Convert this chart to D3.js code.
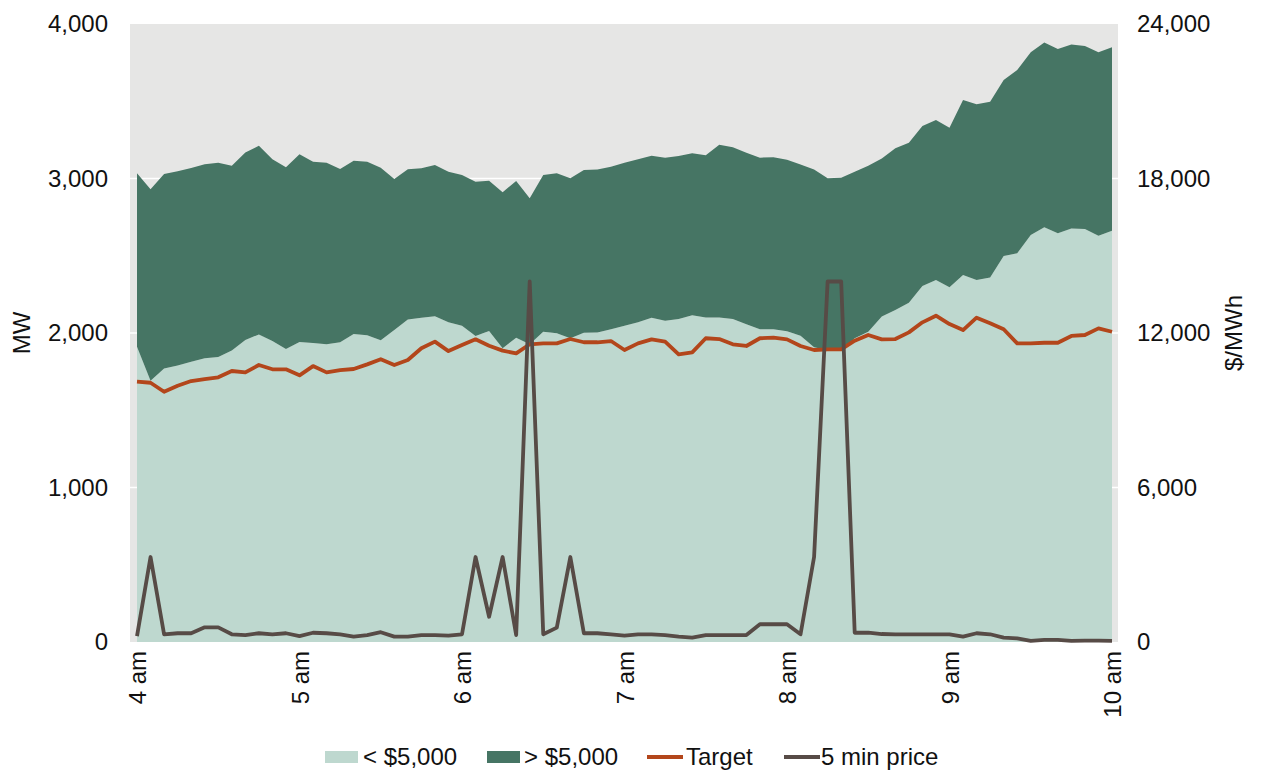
<!DOCTYPE html>
<html>
<head>
<meta charset="utf-8">
<script src="https://cdn.jsdelivr.net/npm/d3@7"></script>
<style>
  html, body { margin: 0; padding: 0; background: #ffffff; }
  svg { display: block; font-family: "Liberation Sans", Arial, sans-serif; }
</style>
</head>
<body>
<svg id="chart" width="1263" height="771"></svg>
<script>
// ---- Data (5-minute intervals, 4 am to 10 am) ----
const hourLabels = ["4 am", "5 am", "6 am", "7 am", "8 am", "9 am", "10 am"];
const intervalsPerHour = 12;

// MW offered below $5,000
const below5000 = [1911,1691,1771,1790,1814,1836,1845,1886,1955,1991,
  1948,1896,1942,1935,1927,1940,1994,1985,1953,2019,
  2088,2099,2108,2070,2047,1981,2013,1901,1970,1927,
  2008,1998,1966,2002,2004,2024,2047,2069,2099,2080,
  2091,2115,2101,2101,2091,2056,2024,2024,2012,1982,
  1907,1890,1885,1966,2008,2106,2149,2196,2304,2343,
  2296,2375,2343,2360,2498,2516,2634,2684,2645,2677,
  2673,2630,2662];

// MW offered above $5,000
const above5000 = [1123,1239,1258,1257,1254,1256,1257,1197,1214,1221,
  1176,1177,1215,1174,1175,1121,1121,1124,1117,978,
  972,967,979,974,976,998,973,1010,1014,945,
  1015,1036,1035,1053,1055,1052,1055,1055,1049,1055,
  1055,1048,1049,1118,1111,1111,1111,1113,1110,1108,
  1152,1111,1120,1078,1075,1024,1046,1036,1036,1036,
  1033,1133,1137,1137,1140,1186,1183,1196,1193,1191,
  1185,1187,1187];

// Dispatch target, MW
const target = [1685,1678,1620,1659,1689,1702,1713,1754,1745,1793,
  1765,1765,1726,1786,1745,1760,1767,1797,1830,1793,
  1825,1901,1944,1883,1922,1959,1918,1886,1868,1927,
  1933,1933,1961,1940,1940,1948,1890,1933,1959,1944,
  1862,1875,1966,1961,1927,1916,1966,1970,1959,1916,
  1890,1894,1894,1950,1987,1959,1961,2004,2069,2112,
  2058,2019,2099,2063,2024,1933,1933,1937,1937,1981,
  1987,2030,2008];

// 5 minute price, $/MWh
const price5min = [230,3300,300,340,340,570,570,300,270,340,
  300,340,230,360,340,300,210,270,380,210,
  210,270,270,250,300,3300,980,3300,270,14000,
  300,560,3300,340,340,300,250,300,300,270,
  210,170,270,270,270,270,690,690,690,300,
  3300,14000,14000,360,360,310,300,300,300,300,
  300,210,340,300,170,140,40,80,80,40,
  50,50,40];

const mwTicks = [0, 1000, 2000, 3000, 4000];
const priceTicks = [0, 6000, 12000, 18000, 24000];

const seriesNames = ["< $5,000", "> $5,000", "Target", "5 min price"];
const colors = {
  below: "#bed8cf",
  above: "#467564",
  target: "#b3461b",
  price: "#574b46",
  plotBg: "#e6e6e5",
  grid: "#ffffff",
  text: "#111111"
};

// ---- Layout ----
const svg = d3.select("#chart");
const plot = { left: 130, right: 1118, top: 24, bottom: 642 };
const FS = 24;

const n = below5000.length;
const x = d3.scaleLinear().domain([0, n - 1]).range([137, 1112]);
const yL = d3.scaleLinear().domain([0, 4000]).range([plot.bottom, plot.top]);
const yR = d3.scaleLinear().domain([0, 24000]).range([plot.bottom, plot.top]);

// Plot background
svg.append("rect")
  .attr("x", plot.left).attr("y", plot.top)
  .attr("width", plot.right - plot.left).attr("height", plot.bottom - plot.top)
  .attr("fill", colors.plotBg);

// Gridlines
svg.append("g").selectAll("line").data(mwTicks.slice(1, -1)).join("line")
  .attr("x1", plot.left).attr("x2", plot.right)
  .attr("y1", d => yL(d)).attr("y2", d => yL(d))
  .attr("stroke", colors.grid).attr("stroke-width", 1.5);

// Stacked areas
const rows = below5000.map((b, i) => ({ i, below: b, above: above5000[i] }));
const stack = d3.stack().keys(["below", "above"]);
const stacked = stack(rows);
const area = d3.area()
  .x(d => x(d.data.i))
  .y0(d => yL(d[0]))
  .y1(d => yL(d[1]));
svg.append("g").selectAll("path").data(stacked).join("path")
  .attr("d", area)
  .attr("fill", (d, k) => k === 0 ? colors.below : colors.above);

// Lines
const lineL = d3.line().x((d, i) => x(i)).y(d => yL(d));
const lineR = d3.line().x((d, i) => x(i)).y(d => yR(d));
svg.append("path").datum(target)
  .attr("d", lineL).attr("fill", "none")
  .attr("stroke", colors.target).attr("stroke-width", 3.8)
  .attr("stroke-linejoin", "round");
svg.append("path").datum(price5min)
  .attr("d", lineR).attr("fill", "none")
  .attr("stroke", colors.price).attr("stroke-width", 3.8)
  .attr("stroke-linejoin", "round");

// Axes
const leftAxis = d3.axisLeft(yL).tickValues(mwTicks).tickFormat(d3.format(",")).tickSize(0).tickPadding(22);
const gL = svg.append("g").attr("transform", `translate(${plot.left},0)`).call(leftAxis);
const rightAxis = d3.axisRight(yR).tickValues(priceTicks).tickFormat(d3.format(",")).tickSize(0).tickPadding(19);
const gR = svg.append("g").attr("transform", `translate(${plot.right},0)`).call(rightAxis);
const bottomAxis = d3.axisBottom(x)
  .tickValues(hourLabels.map((_, k) => k * intervalsPerHour))
  .tickFormat((d, k) => hourLabels[k]).tickSize(0);
const gB = svg.append("g").attr("transform", `translate(0,${plot.bottom})`).call(bottomAxis);
gB.selectAll("text")
  .attr("transform", "rotate(-90)")
  .attr("text-anchor", "end")
  .attr("x", -9).attr("y", 0).attr("dy", "0.36em");

[gL, gR, gB].forEach(g => {
  g.select(".domain").remove();
  g.selectAll("text").attr("font-size", FS).attr("fill", colors.text)
    .attr("font-family", "'Liberation Sans', Arial, sans-serif");
});

// Axis titles
svg.append("text")
  .attr("transform", "translate(22,333) rotate(-90)")
  .attr("text-anchor", "middle").attr("dy", "0.35em")
  .attr("font-size", FS).attr("fill", colors.text).text("MW");
svg.append("text")
  .attr("transform", "translate(1234,333) rotate(-90)")
  .attr("text-anchor", "middle").attr("dy", "0.35em")
  .attr("font-size", FS).attr("fill", colors.text).text("$/MWh");

// Legend
const legendY = 757;
const legendItems = [
  { name: seriesNames[0], type: "rect", color: colors.below, x0: 325, tx: 363 },
  { name: seriesNames[1], type: "rect", color: colors.above, x0: 487, tx: 524 },
  { name: seriesNames[2], type: "line", color: colors.target, x0: 647, tx: 686 },
  { name: seriesNames[3], type: "line", color: colors.price, x0: 784, tx: 821 }
];
const lg = svg.append("g");
legendItems.forEach(it => {
  if (it.type === "rect") {
    lg.append("rect").attr("x", it.x0).attr("y", legendY - 6)
      .attr("width", 33).attr("height", 12).attr("fill", it.color);
  } else {
    lg.append("line").attr("x1", it.x0).attr("x2", it.x0 + 36)
      .attr("y1", legendY).attr("y2", legendY)
      .attr("stroke", it.color).attr("stroke-width", 3.8);
  }
  lg.append("text").attr("x", it.tx).attr("y", legendY).attr("dy", "0.35em")
    .attr("font-size", FS).attr("fill", colors.text).text(it.name);
});
</script>
</body>
</html>
